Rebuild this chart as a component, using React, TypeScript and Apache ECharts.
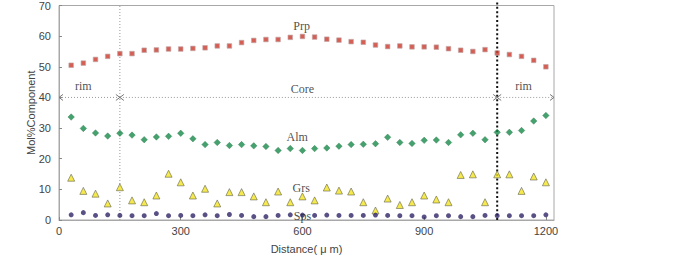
import React, { useEffect, useRef } from "react";
import * as echarts from "echarts";

// Distance (µm) of each analysis point
const distance = [
  30, 60, 90, 120, 150, 180, 210, 240, 270, 300, 330, 360, 390, 420, 450, 480, 510, 540, 570, 600,
  630, 660, 690, 720, 750, 780, 810, 840, 870, 900, 930, 960, 990, 1020, 1050, 1080, 1110, 1140, 1170, 1200,
];

const prp = [
  50.5, 51.2, 52.4, 53.4, 54.3, 54.3, 55.4, 55.5, 55.8, 55.8, 56.0, 56.2, 56.8, 56.8, 57.9, 58.6, 58.9, 58.9, 59.6, 59.9,
  59.7, 59.0, 58.7, 58.2, 58.0, 57.1, 56.6, 56.8, 56.5, 56.5, 56.4, 55.9, 55.4, 55.0, 55.6, 54.5, 54.0, 53.4, 52.1, 50.0,
];

const alm = [
  33.6, 29.9, 28.4, 27.4, 28.3, 27.7, 26.2, 27.1, 27.3, 28.3, 26.5, 24.6, 25.3, 24.3, 24.6, 24.2, 24.0, 22.7, 23.3, 22.7,
  23.3, 23.5, 24.1, 24.6, 24.7, 24.9, 27.0, 25.3, 25.0, 26.0, 26.1, 25.3, 27.8, 28.3, 26.2, 28.6, 28.6, 29.2, 32.3, 34.1,
];

const grs = [
  13.8, 9.5, 8.6, 5.4, 10.7, 6.4, 5.8, 8.0, 15.1, 12.3, 8.0, 10.2, 5.4, 9.1, 9.1, 7.7, 5.8, 9.3, 5.8, 7.7,
  6.4, 10.6, 9.6, 9.3, 5.8, 3.1, 7.0, 4.9, 5.8, 8.0, 6.7, 5.8, 14.7, 14.9, 5.8, 14.9, 14.9, 9.5, 14.2, 12.3,
];

const sps = [
  1.7, 2.4, 1.5, 1.7, 1.5, 1.4, 1.4, 2.1, 1.4, 1.5, 1.4, 1.7, 1.4, 1.8, 1.5, 1.1, 1.1, 1.5, 1.7, 1.6,
  1.5, 1.6, 1.5, 1.5, 1.5, 1.6, 1.5, 1.4, 1.4, 1.0, 1.4, 1.4, 1.1, 1.1, 1.5, 1.4, 1.4, 1.4, 1.4, 1.7,
];

// Zone boundaries (µm): rim | core | rim
const boundaries = [150, 1080];
const zoneSegments = [
  [0, 150],
  [150, 1080],
  [1080, 1220],
];
const zoneLineLevel = 40;

// Text annotations
const labelTexts = ["Prp", "Core", "rim", "rim", "Alm", "Grs", "Sps"];
const labelX = [598, 600, 60, 1145, 587, 597, 600];
const labelY = [63.2, 42.6, 43.6, 43.6, 27.2, 10.6, 1.4];

const xTicks = { min: 0, max: 1220, interval: 300 };
const yTicks = { min: 0, max: 70, interval: 10 };

const SANS = "'Liberation Sans', Arial, sans-serif";
const SERIF = "'Liberation Serif', 'Times New Roman', serif";

export default function App() {
  const ref = useRef<HTMLDivElement>(null);

  useEffect(() => {
    if (!ref.current) return;
    const chart = echarts.init(ref.current, undefined, { renderer: "svg" });
    const pts = (vals: number[]) => distance.map((d, i) => [d, vals[i]]);

    chart.setOption({
      animation: false,
      backgroundColor: "#ffffff",
      grid: {
        left: 59,
        right: 146,
        top: 5,
        bottom: 37,
        show: true,
        borderColor: "#a8a8a8",
        borderWidth: 1,
        backgroundColor: "transparent",
      },
      xAxis: {
        type: "value",
        min: xTicks.min,
        max: xTicks.max,
        interval: xTicks.interval,
        name: "Distance( μ m)",
        nameLocation: "middle",
        nameGap: 23,
        nameMoveOverlap: false,
        nameTextStyle: { fontFamily: SANS, fontSize: 11, color: "#444" },
        axisLine: { show: true, lineStyle: { color: "#a8a8a8" } },
        axisTick: { show: true, inside: true, length: 3, lineStyle: { color: "#888" } },
        axisLabel: {
          fontFamily: SANS,
          fontSize: 11,
          color: "#444",
          margin: 5,
          showMaxLabel: false,
          formatter: (v: number) => String(v),
        },
        splitLine: { show: false },
      },
      yAxis: {
        type: "value",
        min: yTicks.min,
        max: yTicks.max,
        interval: yTicks.interval,
        name: "Mol%Component",
        nameLocation: "middle",
        nameGap: 23,
        nameMoveOverlap: false,
        nameTextStyle: { fontFamily: SANS, fontSize: 11, color: "#444" },
        axisLine: { show: true, lineStyle: { color: "#a8a8a8" } },
        axisTick: { show: true, inside: true, length: 3, lineStyle: { color: "#888" } },
        axisLabel: { fontFamily: SANS, fontSize: 11, color: "#444", margin: 8 },
        splitLine: { show: false },
      },
      series: [
        {
          type: "custom",
          name: "boundaries",
          silent: true,
          data: boundaries.map((b, i) => [b, i]),
          encode: { x: 0, y: 1 },
          renderItem: (params: any, api: any) => {
            const x = api.value(0);
            const kind = api.value(1);
            const bottom = api.coord([x, yTicks.min]);
            const top = api.coord([x, yTicks.max]);
            return {
              type: "line",
              shape: {
                x1: bottom[0],
                y1: bottom[1],
                x2: bottom[0],
                y2: kind === 1 ? top[1] - 5 : top[1],
              },
              style:
                kind === 1
                  ? { stroke: "#111", lineWidth: 2, lineDash: [2, 2.4] }
                  : { stroke: "#9a9a9a", lineWidth: 1, lineDash: [1, 2] },
            };
          },
          z: 1,
        },
        {
          type: "custom",
          name: "zones",
          silent: true,
          data: zoneSegments.map((s) => [s[0], s[1], zoneLineLevel]),
          encode: { x: [0, 1], y: 2 },
          renderItem: (params: any, api: any) => {
            const a = api.coord([api.value(0), api.value(2)]);
            const b = api.coord([api.value(1), api.value(2)]);
            const st = { stroke: "#777", lineWidth: 1, fill: "none" };
            return {
              type: "group",
              children: [
                {
                  type: "line",
                  shape: { x1: a[0], y1: a[1], x2: b[0], y2: b[1] },
                  style: { stroke: "#9a9a9a", lineWidth: 1, lineDash: [1, 2] },
                },
                {
                  type: "polyline",
                  shape: { points: [[a[0] + 4, a[1] - 3], [a[0], a[1]], [a[0] + 4, a[1] + 3]] },
                  style: st,
                },
                {
                  type: "polyline",
                  shape: { points: [[b[0] - 4, b[1] - 3], [b[0], b[1]], [b[0] - 4, b[1] + 3]] },
                  style: st,
                },
              ],
            };
          },
          z: 1,
        },
        {
          type: "scatter",
          name: "Prp",
          data: pts(prp),
          symbol: "rect",
          symbolSize: 4.6,
          itemStyle: { color: "#c8372a", borderColor: "#c0a8a8", borderWidth: 0.8 },
          z: 3,
        },
        {
          type: "scatter",
          name: "Alm",
          data: pts(alm),
          symbol: "diamond",
          symbolSize: 6.5,
          itemStyle: { color: "#168a48", borderColor: "#2a7a4a", borderWidth: 0.5 },
          z: 3,
        },
        {
          type: "scatter",
          name: "Grs",
          data: pts(grs),
          symbol: "triangle",
          symbolSize: 7,
          itemStyle: { color: "#f2e41e", borderColor: "#6a6a50", borderWidth: 0.8 },
          z: 3,
        },
        {
          type: "scatter",
          name: "Sps",
          data: pts(sps),
          symbol: "circle",
          symbolSize: 5,
          itemStyle: { color: "#2f2566" },
          z: 3,
        },
        {
          type: "scatter",
          name: "labels",
          silent: true,
          data: labelTexts.map((t, i) => ({ name: t, value: [labelX[i], labelY[i]] })),
          symbolSize: 1,
          itemStyle: { color: "transparent" },
          label: {
            show: true,
            position: "inside",
            formatter: (p: any) => p.name,
            fontFamily: SERIF,
            fontSize: 12,
            color: "#222",
          },
          z: 5,
        },
      ],
    });

    return () => chart.dispose();
  }, []);

  return (
    <div
      ref={ref}
      style={{ position: "fixed", left: 0, top: 0, width: 700, height: 259, background: "#fff" }}
    />
  );
}
